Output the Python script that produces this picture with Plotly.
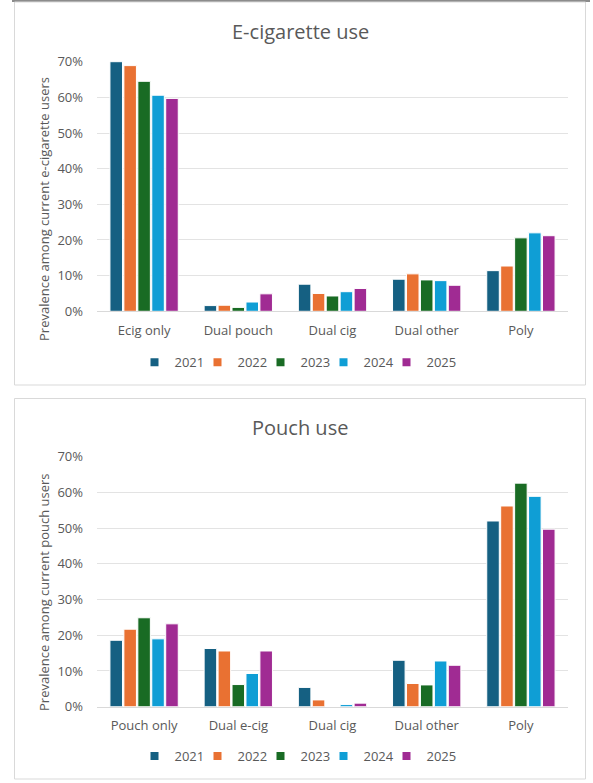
import plotly.graph_objects as go

years = ["2021", "2022", "2023", "2024", "2025"]
colors = ["#156082", "#E97132", "#196B24", "#0F9ED5", "#A02B93"]

ecig_categories = ["Ecig only", "Dual pouch", "Dual cig", "Dual other", "Poly"]
ecig_2021 = [0.700, 0.016, 0.076, 0.090, 0.114]
ecig_2022 = [0.689, 0.017, 0.050, 0.105, 0.127]
ecig_2023 = [0.645, 0.011, 0.043, 0.088, 0.206]
ecig_2024 = [0.606, 0.026, 0.055, 0.086, 0.220]
ecig_2025 = [0.597, 0.049, 0.064, 0.073, 0.212]

pouch_categories = ["Pouch only", "Dual e-cig", "Dual cig", "Dual other", "Poly"]
pouch_2021 = [0.186, 0.163, 0.054, 0.130, 0.520]
pouch_2022 = [0.217, 0.156, 0.019, 0.065, 0.562]
pouch_2023 = [0.249, 0.062, 0.000, 0.061, 0.626]
pouch_2024 = [0.190, 0.093, 0.006, 0.128, 0.589]
pouch_2025 = [0.232, 0.156, 0.010, 0.116, 0.497]

ecig_series = [ecig_2021, ecig_2022, ecig_2023, ecig_2024, ecig_2025]
pouch_series = [pouch_2021, pouch_2022, pouch_2023, pouch_2024, pouch_2025]

W, H = 593, 783
GRAY = "#595959"
FONT = "Open Sans"


def px(x):
    return x / W


def py(y):
    return 1 - y / H


fig = go.Figure()

for i, yr in enumerate(years):
    fig.add_trace(go.Bar(
        x=ecig_categories, y=ecig_series[i], name=yr,
        marker=dict(color=colors[i], line=dict(color="white", width=1)),
        xaxis="x", yaxis="y", showlegend=False,
    ))
for i, yr in enumerate(years):
    fig.add_trace(go.Bar(
        x=pouch_categories, y=pouch_series[i], name=yr,
        marker=dict(color=colors[i], line=dict(color="white", width=1)),
        xaxis="x2", yaxis="y2", showlegend=False,
    ))
# legend entries
for lg, xa, ya in (("legend", "x", "y"), ("legend2", "x2", "y2")):
    for i, yr in enumerate(years):
        fig.add_trace(go.Scatter(
            x=[None], y=[None], name=yr, mode="markers",
            marker=dict(symbol="square", size=8, color=colors[i]),
            xaxis=xa, yaxis=ya, legend=lg, showlegend=True,
            legendwidth=(34 if i == len(years) - 1 else 18),
        ))

xdom = [px(97), px(568)]
common_x = dict(
    domain=xdom, type="category", showline=True, linecolor="#d9d9d9",
    linewidth=1, ticks="", tickfont=dict(family=FONT, size=13, color=GRAY),
    showgrid=False, ticklabelstandoff=7, automargin=False,
)
common_y = dict(
    range=[0, 0.7], dtick=0.1, tickformat=".0%", showgrid=True,
    gridcolor="#e3e3e3", gridwidth=1, zeroline=False, showline=False,
    tickfont=dict(family=FONT, size=13, color=GRAY), ticks="",
    ticklabelstandoff=13, automargin=False,
)

leg = dict(
    orientation="h", xanchor="center", yanchor="middle",
    font=dict(family=FONT, size=13, color=GRAY), bgcolor="rgba(0,0,0,0)",
    itemwidth=30, itemclick=False,
)

fig.update_layout(
    width=W, height=H, margin=dict(l=0, r=0, t=0, b=0, autoexpand=False),
    paper_bgcolor="white", plot_bgcolor="white",
    barmode="group", bargap=0.26, bargroupgap=0.1,
    font=dict(family=FONT, color=GRAY),
    xaxis=dict(common_x, anchor="y"),
    yaxis=dict(common_y, domain=[py(311.3), py(61.7)], anchor="x"),
    xaxis2=dict(common_x, anchor="y2"),
    yaxis2=dict(common_y, domain=[py(706.7), py(456.7)], anchor="x2"),
    legend=dict(leg, x=px(300), y=py(362.3)),
    legend2=dict(leg, x=px(300), y=py(756)),
    showlegend=True,
    shapes=[
        dict(type="rect", xref="paper", yref="paper", x0=px(12), x1=px(590),
             y0=py(2), y1=py(0), fillcolor="#8c8c8c", line=dict(width=0),
             layer="above"),
        dict(type="rect", xref="paper", yref="paper", x0=px(14.5), x1=px(585.5),
             y0=py(385), y1=py(2), line=dict(color="#d9d9d9", width=1),
             fillcolor="rgba(0,0,0,0)"),
        dict(type="rect", xref="paper", yref="paper", x0=px(14.5), x1=px(585.5),
             y0=py(779), y1=py(398.5), line=dict(color="#d9d9d9", width=1),
             fillcolor="rgba(0,0,0,0)"),
    ],
    annotations=[
        dict(text="E-cigarette use", xref="paper", yref="paper", x=px(300),
             y=py(31), xanchor="center", yanchor="middle", showarrow=False,
             font=dict(family=FONT, size=20, color=GRAY)),
        dict(text="Pouch use", xref="paper", yref="paper", x=px(300),
             y=py(427), xanchor="center", yanchor="middle", showarrow=False,
             font=dict(family=FONT, size=20, color=GRAY)),
        dict(text="Prevalence among current e-cigarette users", xref="paper",
             yref="paper", x=px(44), y=py(209), xanchor="center",
             yanchor="middle", textangle=-90, showarrow=False,
             font=dict(family=FONT, size=13, color=GRAY)),
        dict(text="Prevalence among current pouch users", xref="paper",
             yref="paper", x=px(44), y=py(592), xanchor="center",
             yanchor="middle", textangle=-90, showarrow=False,
             font=dict(family=FONT, size=13, color=GRAY)),
    ],
)

fig.write_html("out.html")
